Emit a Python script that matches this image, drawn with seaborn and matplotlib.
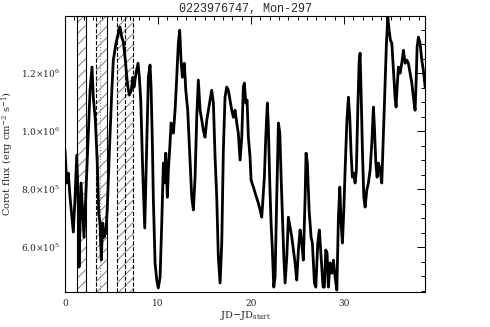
#!/usr/bin/env python3
"""
Corot light curve of 0223976747 (Mon-297) with the hatched time windows.
"""

import numpy as np
import pandas as pd
import matplotlib
matplotlib.use('Agg')
import matplotlib.pyplot as plt
from matplotlib.ticker import MultipleLocator, FixedLocator, FixedFormatter
import seaborn as sns


# time (days since start) and flux (in units of 1e5 erg cm^-2 s^-1)
time_d = [
    0.00, 0.18, 0.35, 0.54, 0.89, 1.08, 1.26, 1.43, 1.51, 1.72, 1.90, 2.04, 2.26,
    2.51, 2.69, 2.90, 3.04, 3.26, 3.47, 3.62, 3.76, 3.90, 4.05, 4.19, 4.38, 4.55,
    4.76, 5.02, 5.19, 5.48, 5.73, 5.91, 6.10, 6.27, 6.48, 6.70, 6.91, 7.13, 7.28,
    7.42, 7.63, 7.85, 7.99, 8.14, 8.35, 8.57, 8.96, 9.14, 9.25, 9.39, 9.49, 9.68,
    9.86, 10.03, 10.22, 10.40, 10.57, 10.68, 10.83, 11.00, 11.11, 11.29, 11.40,
    11.65, 11.83, 12.01, 12.18, 12.33, 12.47, 12.61, 12.83, 12.98, 13.19, 13.44,
    13.62, 13.80, 13.98, 14.16, 14.33, 14.52, 14.70, 14.87, 15.05, 15.24, 15.41,
    15.59, 15.77, 15.95, 16.13, 16.31, 16.48, 16.67, 16.85, 17.02, 17.20, 17.38,
    17.56, 17.74, 17.92, 18.10, 18.28, 18.46, 18.63, 18.82, 19.00, 19.17, 19.28,
    19.43, 19.57, 19.71, 19.89, 20.00, 20.25, 20.51, 20.78, 20.97, 21.15, 21.29,
    21.43, 21.58, 21.75, 21.86, 22.01, 22.15, 22.29, 22.44, 22.58, 22.76, 22.94,
    23.09, 23.23, 23.37, 23.52, 23.66, 23.84, 24.01, 24.19, 24.38, 24.55, 24.73,
    24.91, 25.09, 25.27, 25.45, 25.62, 25.81, 25.91, 26.05, 26.24, 26.45, 26.59,
    26.81, 26.96, 27.17, 27.34, 27.53, 27.74, 27.88, 28.03, 28.17, 28.31, 28.49,
    28.68, 28.85, 29.03, 29.22, 29.39, 29.54, 29.68, 29.82, 29.97, 30.11, 30.29,
    30.46, 30.61, 30.75, 30.89, 31.04, 31.18, 31.32, 31.47, 31.61, 31.72, 31.83,
    31.97, 32.12, 32.26, 32.44, 32.61, 32.80, 32.98, 33.15, 33.26, 33.41, 33.55,
    33.69, 33.87, 34.05, 34.16, 34.27, 34.41, 34.55, 34.70, 34.84, 34.98, 35.13,
    35.30, 35.48, 35.59, 35.70, 35.84, 36.02, 36.20, 36.38, 36.56, 36.74, 36.91,
    37.10, 37.28, 37.45, 37.63, 37.74, 37.85, 37.99, 38.17, 38.35, 38.52, 38.71,
]
flux_e5 = [
    9.34, 8.21, 8.55, 7.72, 6.52, 7.72, 9.17, 7.38, 5.31, 8.21, 7.17, 6.34, 7.97,
    9.93, 11.41, 12.21, 11.17, 10.38, 8.90, 7.17, 6.83, 5.55, 6.83, 6.34, 6.48, 7.38,
    9.24, 11.31, 12.45, 13.03, 13.38, 13.59, 13.24, 13.07, 12.45, 11.66, 11.24, 11.41, 11.86,
    11.52, 12.00, 12.34, 11.86, 11.07, 8.66, 6.66, 11.86, 12.28, 11.52, 9.59, 7.72, 5.45,
    4.86, 4.59, 4.97, 6.83, 8.90, 8.21, 9.24, 7.72, 8.66, 9.59, 10.28,
    9.93, 10.72, 11.86, 13.03, 13.48, 12.45, 11.86, 12.34, 11.41, 10.72, 9.00,
    7.72, 7.28, 8.41, 10.48, 11.76, 10.72, 10.38, 10.03, 9.79, 10.38, 10.72,
    11.07, 11.41, 10.97, 9.10, 7.72, 5.66, 4.76, 6.14, 9.34, 11.17, 11.52,
    11.41, 11.07, 10.72, 10.48, 10.72, 10.28, 9.93, 9.00, 9.79, 11.52, 11.66,
    10.97, 11.07, 9.79, 9.10, 8.31, 8.07, 7.79, 7.52, 7.28, 7.03, 7.72,
    8.41, 9.79, 10.97, 10.14, 8.21, 6.83, 5.90, 4.62, 4.97, 7.72, 10.28,
    9.93, 8.41, 7.03, 5.66, 4.76, 5.66, 7.03, 6.69, 6.34, 5.90, 5.45,
    4.86, 5.90, 6.59, 6.14, 5.55, 7.72, 9.24, 8.90, 7.28, 6.34, 6.14,
    4.76, 4.62, 6.14, 6.59, 5.66, 4.62, 4.62, 5.90, 5.79, 4.62, 5.45,
    5.10, 5.55, 4.97, 4.52, 7.03, 8.07, 6.83, 6.14, 7.28, 8.66, 10.28,
    11.17, 10.48, 9.24, 8.41, 8.55, 8.21, 8.66, 10.72, 12.34, 12.69, 11.31,
    9.34, 7.72, 7.38, 7.97, 8.21, 8.66, 9.59, 10.83, 10.14, 8.90, 8.41,
    8.90, 8.66, 8.21, 9.24, 10.28, 11.66, 13.03, 13.93, 13.48, 13.14, 13.03,
    12.10, 11.17, 10.83, 11.52, 12.21, 12.00, 12.34, 12.79, 12.34, 12.45, 12.34,
    12.00, 11.66, 11.17, 10.72, 11.66, 12.90, 13.24, 13.03, 12.45, 12.10, 11.52,
]

# hatched windows (start, end) in days and style of their edges
band_start = [1.26, 3.33, 5.62, 6.48]
band_end = [2.26, 4.48, 6.48, 7.28]
edge_pos = [1.26, 2.26, 3.33, 4.48, 5.62, 6.48, 7.28]
edge_style = ['-', '-', '--', '-', '--', '--', '--']
dotted_pos = [3.76]

ytick_vals = [6.0, 8.0, 10.0, 12.0]
ytick_labels = [r'6.0$\times$10$^{5}$', r'8.0$\times$10$^{5}$',
                r'1.0$\times$10$^{6}$', r'1.2$\times$10$^{6}$']


def main():
    sns.set_style('white')
    plt.rcParams['font.family'] = ['DejaVu Serif']
    plt.rcParams['mathtext.fontset'] = 'dejavuserif'
    plt.rcParams['hatch.linewidth'] = 0.7

    df = pd.DataFrame({'t': time_d, 'flux': np.array(flux_e5) * 1e5})

    fig = plt.figure(figsize=(4.9, 3.27), dpi=100)
    ax = fig.add_axes([0.1327, 0.107, 0.7347, 0.844])

    for a, b in zip(band_start, band_end):
        ax.axvspan(a, b, facecolor='none', edgecolor='0.5', hatch='///',
                   linewidth=0, zorder=1)
    for x, ls in zip(edge_pos, edge_style):
        ax.axvline(x, color='black', lw=0.8, ls=ls, zorder=2)
    for x in dotted_pos:
        ax.axvline(x, color='0.5', lw=0.8, ls=':', zorder=2)

    sns.lineplot(data=df, x='t', y='flux', ax=ax, color='black', lw=2.0,
                 zorder=3, sort=False)

    ax.set_xlim(0, 38.7)
    ax.set_ylim(4.45e5, 1.397e6)

    ax.xaxis.set_major_locator(MultipleLocator(10))
    ax.xaxis.set_minor_locator(MultipleLocator(1))
    ax.yaxis.set_major_locator(FixedLocator([v * 1e5 for v in ytick_vals]))
    ax.yaxis.set_major_formatter(FixedFormatter(ytick_labels))
    ax.yaxis.set_minor_locator(MultipleLocator(0.5e5))

    ax.tick_params(which='both', direction='in', top=True, right=True,
                   labelsize=6.5, width=0.7, color='black')
    ax.tick_params(which='major', length=6)
    ax.tick_params(which='minor', length=3)
    ax.tick_params(axis='x', pad=5)

    for s in ax.spines.values():
        s.set_color('black')
        s.set_linewidth(0.8)

    ax.set_xlabel(r'JD$-$JD$_{\rm start}$', fontsize=7, labelpad=1)
    ax.set_ylabel(r'Corot flux (erg cm$^{-2}$ s$^{-1}$)', fontsize=7, labelpad=4)
    ax.set_title('0223976747, Mon-297', fontsize=8.5, family='Liberation Mono',
                 pad=3)

    fig.savefig('out.png', dpi=100)
    plt.close(fig)


if __name__ == '__main__':
    main()
